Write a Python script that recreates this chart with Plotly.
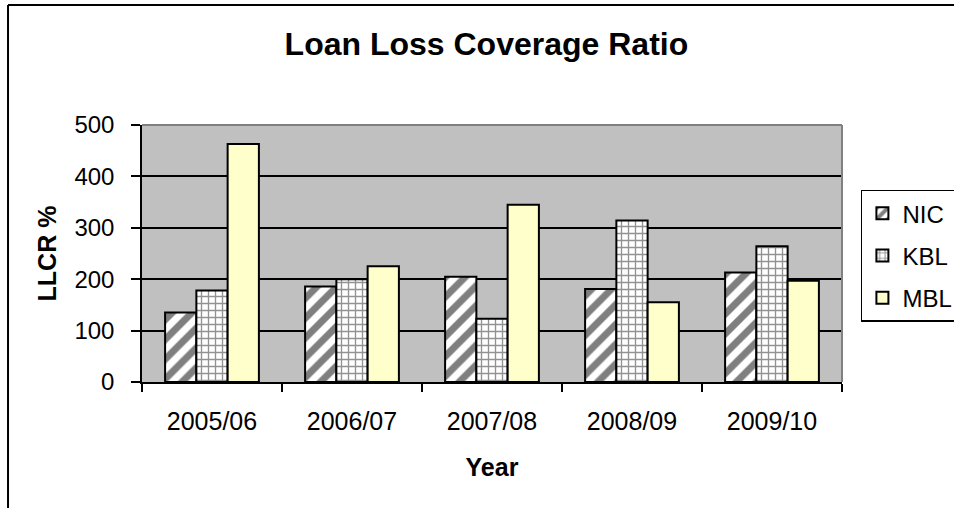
import plotly.graph_objects as go

# Loan loss coverage ratio (%) by fiscal year for three banks
years = ["2005/06", "2006/07", "2007/08", "2008/09", "2009/10"]
nic = [135, 186, 205, 181, 213]
kbl = [178, 200, 123, 314, 264]
mbl = [463, 225, 345, 155, 197]
y_ticks = [0, 100, 200, 300, 400, 500]

FONT = "Liberation Sans, Arial, sans-serif"

fig = go.Figure()

fig.add_trace(go.Bar(
    name="NIC", x=years, y=nic, legendgroup="nic",
    marker=dict(
        color="white",
        line=dict(color="black", width=2),
        pattern=dict(shape="/", fgcolor="black", bgcolor="white",
                     size=14, solidity=0.5),
    ),
))
fig.add_trace(go.Bar(
    name="KBL", x=years, y=kbl, legendgroup="kbl",
    marker=dict(
        color="white",
        line=dict(color="black", width=2),
        pattern=dict(shape="+", fgcolor="#262626", bgcolor="white",
                     size=7, solidity=0.35),
    ),
))
fig.add_trace(go.Bar(
    name="MBL", x=years, y=mbl, legendgroup="mbl",
    marker=dict(color="#FFFFCC", line=dict(color="black", width=2)),
))

fig.update_layout(
    width=954, height=508, autosize=False,
    margin=dict(l=142, r=112, t=125, b=126, autoexpand=False),
    paper_bgcolor="white",
    plot_bgcolor="#C0C0C0",
    barmode="group", bargap=0.33, bargroupgap=0,
    font=dict(family=FONT, color="black"),
    title=dict(
        text="<b>Loan Loss Coverage Ratio</b>",
        font=dict(size=32, family=FONT, color="black"),
        x=0.492, xref="paper", xanchor="center",
        y=1 - 44 / 508, yref="container", yanchor="middle",
    ),
    legend=dict(
        x=1.027, xanchor="left", y=0.748, yanchor="top",
        bgcolor="white", bordercolor="black", borderwidth=1.5,
        font=dict(size=24, family=FONT, color="black"),
        tracegroupgap=8,
        traceorder="grouped",
    ),
    xaxis=dict(
        tickson="boundaries",
        ticks="outside", ticklen=8, tickwidth=1.5, tickcolor="black",
        showline=True, linecolor="black", linewidth=1.5,
        tickfont=dict(size=25, family=FONT, color="black"),
        ticklabelstandoff=16,
        title=dict(text="<b>Year</b>", font=dict(size=25, family=FONT, color="black"),
                   standoff=25),
        showgrid=False,
    ),
    yaxis=dict(
        range=[0, 500], tickvals=y_ticks,
        ticks="outside", ticklen=9, tickwidth=1.5, tickcolor="black",
        showline=True, linecolor="black", linewidth=1.5,
        showgrid=True, gridcolor="black", gridwidth=1.5,
        tickfont=dict(size=24, family=FONT, color="black"),
        ticklabelstandoff=12,
        title=dict(text="<b>LLCR %</b>", font=dict(size=25, family=FONT, color="black"),
                   standoff=11),
        zeroline=False,
    ),
    shapes=[
        # gray edge on top and right of the plotting area
        dict(type="line", xref="paper", yref="paper", x0=0, x1=1, y0=1, y1=1,
             line=dict(color="#808080", width=2), layer="above"),
        dict(type="line", xref="paper", yref="paper", x0=1, x1=1, y0=0, y1=1,
             line=dict(color="#808080", width=2), layer="above"),
        # outer chart frame (left and top edges)
        dict(type="line", xref="paper", yref="paper",
             x0=-0.1914, x1=-0.1914, y0=1.467, y1=-0.6,
             line=dict(color="black", width=2)),
        dict(type="line", xref="paper", yref="paper",
             x0=-0.1914, x1=1.2, y0=1.467, y1=1.467,
             line=dict(color="black", width=2)),
    ],
)

fig.write_html("out.html")
